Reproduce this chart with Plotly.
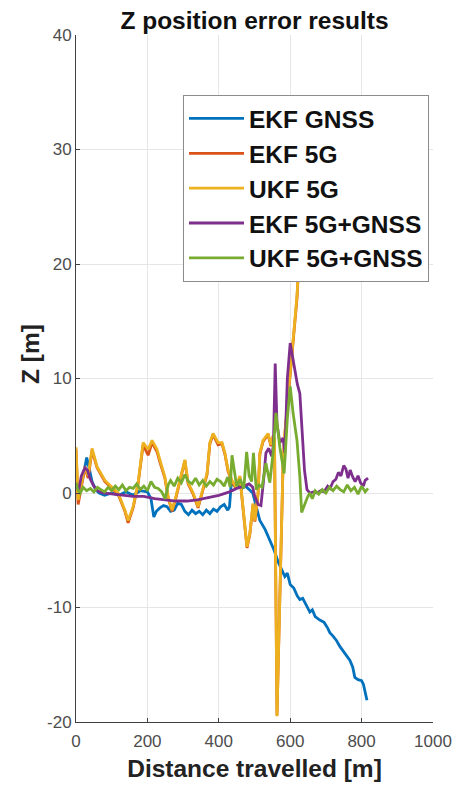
import plotly.graph_objects as go

# ---- data (distance travelled [m], Z error [m]) ----
ekf_gnss_x = [0, 10, 20, 30, 38, 45, 55, 65, 80, 100, 120, 140, 160, 180, 200, 210, 218, 225, 235, 245,
              255, 265, 275, 285, 295, 305, 315, 325, 335, 345, 355, 365, 375, 385, 395, 405, 415, 425, 430, 435,
              445, 455, 465, 475, 485, 495, 505, 515, 530, 543, 555, 566, 575, 585, 592, 600, 610, 620, 627, 635,
              645, 655, 662, 670, 683, 695, 705, 711, 720, 730, 739, 750, 760, 767, 775, 781, 790, 800, 805, 810, 815]
ekf_gnss_z = [0.5, 0.2, 1.5, 3.1, 2.0, 1.0, 0.3, 0.0, -0.2, 0.0, -0.2, 0.1, -0.2, 0.2, 0.1, -0.5, -2.1, -1.6, -1.3, -1.1,
              -1.2, -1.6, -1.5, -0.9, -1.0, -1.6, -1.9, -1.5, -1.8, -1.6, -1.9, -1.5, -1.8, -1.4, -1.6, -1.2, -1.0, -1.5, -1.2, 0.9,
              0.6, 0.7, 0.4, 0.6, 0.3, 0.0, -1.2, -2.4, -3.2, -4.1, -5.0, -6.0, -6.6, -7.3, -7.0, -8.0, -8.3, -9.0, -9.3, -9.2,
              -9.8, -10.4, -10.2, -10.8, -11.1, -11.3, -11.8, -12.2, -12.5, -12.9, -13.4, -13.9, -14.3, -14.6, -15.2, -16.1, -16.3, -16.4, -16.7, -17.3, -18.1]

ukf_5g_x = [0, 6, 25, 34, 45, 59, 81, 101, 118, 137, 146, 160, 174, 188, 202, 213, 227, 235, 249, 258,
            269, 280, 291, 305, 314, 328, 342, 356, 367, 375, 384, 398, 409, 417, 426, 437, 448, 459, 468, 479,
            487, 496, 501, 510, 515, 524, 538, 546, 552, 556, 563, 570, 580, 585, 599, 608, 619, 625, 635]
ukf_5g_z = [4.0, -0.6, 2.3, 1.5, 3.9, 2.3, 1.1, 0.5, 0.0, -1.5, -2.4, -1.2, 0.9, 4.4, 3.8, 4.6, 3.8, 2.9, 1.4, -0.3,
            -1.5, -0.3, 1.1, 2.9, 0.9, 0.0, -1.2, 0.5, 1.7, 4.4, 5.2, 4.4, 4.4, 3.5, 2.0, 1.1, 0.5, 1.5, -1.2, -4.7,
            -3.5, -0.9, -2.4, 0.0, 3.5, 4.6, 5.2, 4.2, 5.0, 4.8, -19.5, -10.0, 2.6, 5.2, 10.0, 13.4, 17.2, 20.6, 28.0]

ekf_5g_x = [0, 6, 25, 34, 45, 59, 81, 101, 118, 137, 146, 160, 174, 188, 202, 213, 227, 235, 249, 258,
            269, 280, 291, 305, 314, 328, 342, 356, 367, 375, 384, 398, 409, 417, 426, 437, 448, 459, 468, 479,
            487, 496, 501, 510, 515, 524, 538, 546, 552, 556, 563, 570, 580, 585, 599, 608, 619, 625, 635]
ekf_5g_z = [3.8, -1.0, 2.2, 1.3, 3.7, 2.2, 1.0, 0.4, -0.1, -1.6, -2.6, -1.3, 0.8, 4.2, 3.3, 4.4, 3.6, 2.7, 1.3, -0.4,
            -1.6, -0.4, 1.0, 2.8, 0.8, -0.1, -1.3, 0.4, 1.6, 4.3, 5.1, 4.2, 4.3, 3.4, 1.9, 1.0, 0.4, 1.4, -1.3, -4.8,
            -3.6, -1.0, -2.5, -0.1, 3.4, 4.5, 5.1, 4.1, 4.9, 4.7, -19.4, -10.0, 2.5, 5.1, 9.8, 13.3, 17.0, 20.5, 27.8]

ekf_5g_gnss_x = [0, 8, 15, 25, 32, 40, 50, 60, 75, 100, 130, 160, 190, 220, 250, 280, 310, 340, 370, 400,
                 430, 450, 470, 485, 495, 500, 510, 518, 525, 532, 540, 548, 553, 558, 563, 571, 580, 585, 592, 600,
                 606, 613, 620, 627, 633, 640, 647, 655, 665, 675, 685, 695, 705, 712, 720, 728, 735, 742, 750, 756,
                 762, 768, 775, 782, 790, 797, 805, 810, 818]
ekf_5g_gnss_z = [0.6, 0.3, 1.5, 2.2, 2.0, 1.2, 0.6, 0.2, 0.0, -0.1, -0.2, -0.3, -0.3, -0.5, -0.6, -0.7, -0.7, -0.6, -0.4, -0.2,
                 0.1, 0.4, 0.6, 0.8, 0.5, -0.2, -1.0, -1.1, 1.0, 3.5, 3.9, 3.2, 4.2, 11.3, 6.0, 4.4, 4.8, 3.5, 10.0, 13.1,
                 12.0, 10.7, 9.5, 8.7, 5.5, 2.0, 0.3, 0.0, 0.1, 0.0, 0.2, 0.1, 0.6, 0.4, 1.0, 1.2, 1.8, 1.5, 2.4, 2.1,
                 1.3, 2.0, 1.4, 1.0, 1.5, 0.9, 0.6, 1.1, 1.3]

ukf_5g_gnss_x = [0, 5, 12, 20, 30, 40, 50, 60, 70, 80, 90, 100, 110, 120, 130, 140, 150, 160, 170, 180,
                 190, 200, 210, 220, 230, 240, 250, 258, 265, 275, 285, 295, 305, 315, 325, 335, 345, 355, 365, 375,
                 385, 395, 405, 415, 425, 432, 437, 443, 450, 460, 470, 478, 485, 492, 497, 505, 513, 521, 532, 543,
                 552, 560, 566, 571, 583, 592, 600, 608, 619, 627, 632, 640, 648, 655, 662, 670, 680, 690, 700, 710,
                 720, 730, 740, 750, 760, 770, 780, 790, 800, 810, 818]
ukf_5g_gnss_z = [0.9, 0.3, 0.0, 0.5, 0.2, 0.4, 0.1, 0.5, 0.3, 0.1, 0.5, 0.2, 0.6, 0.3, 0.7, 0.2, 0.5, 0.4, 0.8, 0.3,
                 0.6, 0.2, 1.0, 0.5, 0.4, 0.1, -0.5, 0.7, 1.1, 0.6, 1.3, 0.9, 1.6, 1.0, 0.8, 1.3, 0.7, 1.1, 0.6, 1.0,
                 0.7, 1.2, 1.0, 0.6, 1.4, 0.5, 3.3, 2.0, 0.6, 1.2, 0.4, 3.6, 1.5, 1.0, 3.5, 0.3, 0.7, 0.5, 2.6, 0.9,
                 3.5, 7.0, 5.0, 4.0, 1.7, 6.5, 9.3, 7.0, 4.6, 1.4, -1.7, -1.0, -0.4, 0.0, -0.5, 0.2, -0.1, 0.3, 0.0, 0.5,
                 0.2, 0.6, 0.3, 0.1, 0.7, 0.2, 0.5, -0.1, 0.6, 0.1, 0.4]

series_names = ["EKF GNSS", "EKF 5G", "UKF 5G", "EKF 5G+GNSS", "UKF 5G+GNSS"]
series_colors = ["#0072BD", "#D95319", "#EDB120", "#7E2F8E", "#77AC30"]
x_ticks = [0, 200, 400, 600, 800, 1000]
y_ticks = [-20, -10, 0, 10, 20, 30, 40]

series = [(ekf_gnss_x, ekf_gnss_z), (ekf_5g_x, ekf_5g_z), (ukf_5g_x, ukf_5g_z),
          (ekf_5g_gnss_x, ekf_5g_gnss_z), (ukf_5g_gnss_x, ukf_5g_gnss_z)]

FONT = "Arial, Liberation Sans, Helvetica, sans-serif"
OFF = 8                      # default page body margin around the figure
W, H = 469 - OFF, 788 - OFF
L, R, T, B = 76 - OFF, 433 - OFF, 35 - OFF, 722 - OFF

fig = go.Figure()
for (xs, zs), name, col in zip(series, series_names, series_colors):
    fig.add_trace(go.Scatter(x=xs, y=zs, mode="lines", name=name,
                             line=dict(color=col, width=2.8)))

axis_common = dict(
    showgrid=True, gridcolor="#e6e6e6", gridwidth=1,
    showline=True, linecolor="#404040", linewidth=1,
    ticks="inside", ticklen=4, tickcolor="#404040",
    tickfont=dict(family=FONT, size=17, color="#4d4d4d"),
    zeroline=False, mirror=False, automargin=False,
)

fig.update_layout(
    width=W, height=H,
    margin=dict(l=L, r=W - R, t=T, b=H - B, autoexpand=False),
    paper_bgcolor="white", plot_bgcolor="white",
    title=dict(text="Z position error results", x=(L + R) / 2 / W, xanchor="center",
               y=1 - (20 - OFF) / H, yanchor="middle", yref="container",
               font=dict(family=FONT, size=24.5, color="#111111", weight="bold")),
    xaxis=dict(range=[0, 1000], tickvals=x_ticks, ticktext=[str(v) for v in x_ticks],
               ticklabelstandoff=4,
               title=dict(text="Distance travelled [m]", standoff=9,
                          font=dict(family=FONT, size=24.5, color="#222222", weight="bold")),
               **axis_common),
    yaxis=dict(range=[-20, 40], tickvals=y_ticks, ticktext=[str(v) for v in y_ticks],
               **axis_common),
    legend=dict(x=(183 - OFF - L) / (R - L), y=(B - (95 - OFF)) / (B - T), xanchor="left", yanchor="top",
                bgcolor="white", bordercolor="#8c8c8c", borderwidth=1,
                font=dict(family=FONT, size=24.5, color="#111111", weight="bold"),
                tracegroupgap=0, itemwidth=55),
    showlegend=True,
    annotations=[dict(text="Z [m]", textangle=-90, xref="paper", yref="paper",
                      x=(30 - OFF - L) / (R - L), y=(B - (354 - OFF)) / (B - T),
                      xanchor="center", yanchor="middle", showarrow=False,
                      font=dict(family=FONT, size=24.5, color="#222222", weight="bold"))],
)

fig.write_html("out.html")
